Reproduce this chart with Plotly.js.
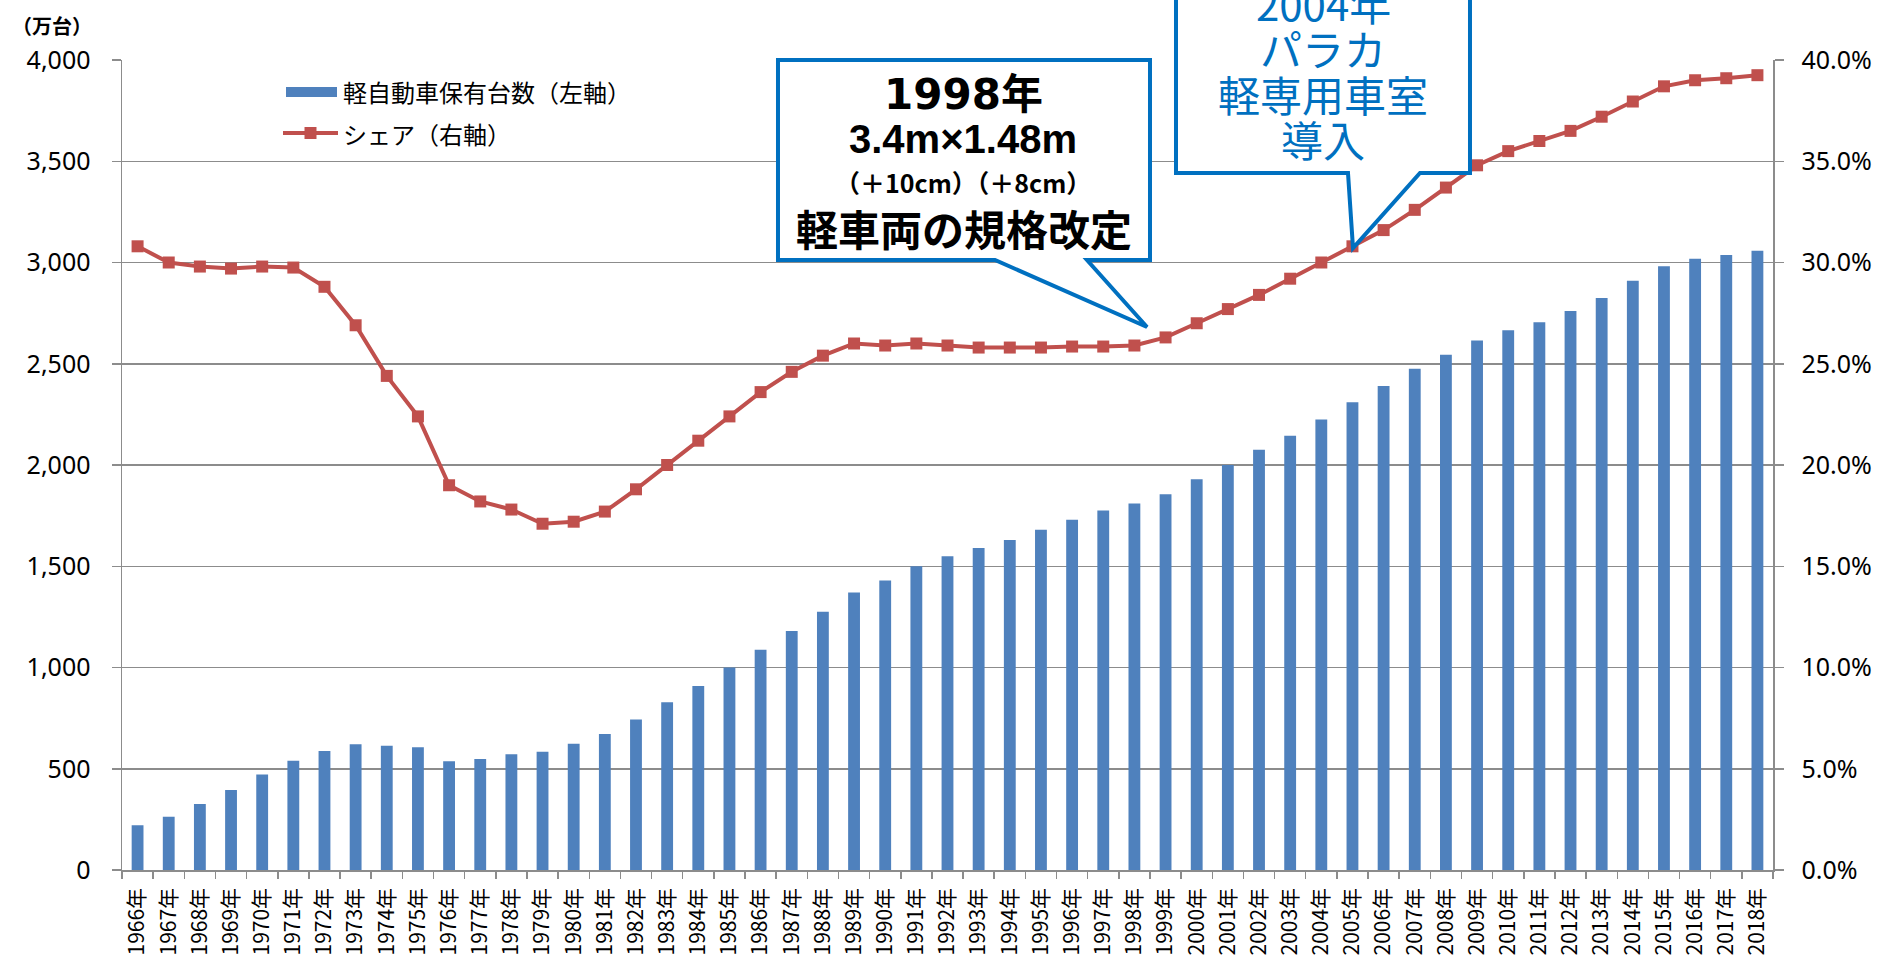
<!DOCTYPE html>
<html>
<head>
<meta charset="utf-8">
<script src="https://cdn.plot.ly/plotly-3.0.1.min.js"></script>
<style>html,body{margin:0;padding:0;background:#fff;}#chart{width:1881px;height:960px;}</style>
</head>
<body>
<div id="chart"></div>
<script>
// ---- data ----
const categories = ["1966年","1967年","1968年","1969年","1970年","1971年","1972年","1973年","1974年","1975年",
"1976年","1977年","1978年","1979年","1980年","1981年","1982年","1983年","1984年","1985年",
"1986年","1987年","1988年","1989年","1990年","1991年","1992年","1993年","1994年","1995年",
"1996年","1997年","1998年","1999年","2000年","2001年","2002年","2003年","2004年","2005年",
"2006年","2007年","2008年","2009年","2010年","2011年","2012年","2013年","2014年","2015年",
"2016年","2017年","2018年"];
const holdings = [221,263,326,395,471,540,588,621,614,606,
537,548,572,584,623,672,743,828,909,1000,
1088,1180,1275,1370,1430,1500,1550,1590,1630,1680,
1730,1775,1810,1855,1930,2000,2075,2145,2225,2310,
2390,2475,2545,2615,2665,2705,2760,2825,2910,2981,
3019,3037,3058];
const share = [30.8,30.0,29.8,29.7,29.8,29.75,28.8,26.9,24.4,22.4,
19.0,18.2,17.8,17.1,17.2,17.7,18.8,20.0,21.2,22.4,
23.6,24.6,25.4,26.0,25.9,26.0,25.9,25.8,25.8,25.8,
25.85,25.85,25.9,26.3,27.0,27.7,28.4,29.2,30.0,30.8,
31.6,32.6,33.7,34.8,35.5,36.0,36.5,37.2,37.95,38.7,
39.0,39.1,39.25];
const barName = "軽自動車保有台数（左軸）";
const lineName = "シェア（右軸）";
const leftTicks = [0,500,1000,1500,2000,2500,3000,3500,4000];
const leftTickLabels = ["0","500","1,000","1,500","2,000","2,500","3,000","3,500","4,000"];
const rightTicks = [0,5,10,15,20,25,30,35,40];
const rightTickLabels = ["0.0%","5.0%","10.0%","15.0%","20.0%","25.0%","30.0%","35.0%","40.0%"];
const unitLabel = "（万台）";
const note1998 = ["1998年","3.4m×1.48m","（＋10cm）（＋8cm）","軽車両の規格改定"];
const note2004 = ["2004年","パラカ","軽専用車室","導入"];

// ---- geometry helpers (pixel -> paper) ----
const W = 1881, Hh = 960;
const M = {l:122, r:108, t:60, b:90};
const PW = W - M.l - M.r, PH = Hh - M.t - M.b;
const px = x => (x - M.l) / PW;
const py = y => (Hh - M.b - y) / PH;
const path = pts => 'M' + pts.map(p => px(p[0]).toFixed(5) + ',' + py(p[1]).toFixed(5)).join('L') + 'Z';

const blue = '#4F81BD', red = '#C0504D', callout = '#0070C0', grid = '#8c8c8c';
const jp = '"Noto Sans CJK JP", "Noto Sans", sans-serif';

const traces = [
  {type:'bar', x:categories, y:holdings, name:barName, marker:{color:blue}, yaxis:'y', showlegend:false},
  {type:'scatter', mode:'lines+markers', x:categories, y:share, name:lineName, yaxis:'y2',
   line:{color:red, width:4}, marker:{symbol:'square', size:12, color:red}, showlegend:false, cliponaxis:false}
];

const shapes = [
  // legend
  {type:'rect', xref:'paper', yref:'paper', x0:px(286), x1:px(337), y0:py(87), y1:py(97), fillcolor:blue, line:{width:0}, layer:'above'},
  {type:'line', xref:'paper', yref:'paper', x0:px(283), x1:px(338), y0:py(133), y1:py(133), line:{color:red, width:4}, layer:'above'},
  {type:'rect', xref:'paper', yref:'paper', x0:px(304.5), x1:px(316.5), y0:py(127), y1:py(139), fillcolor:red, line:{width:0}, layer:'above'},
  // 1998 callout
  {type:'path', xref:'paper', yref:'paper', layer:'above', fillcolor:'#ffffff', line:{color:callout, width:4},
   path: path([[778,60],[1150,60],[1150,260],[1087,260],[1147,327],[995,260],[778,260]])},
  // 2004 callout
  {type:'path', xref:'paper', yref:'paper', layer:'above', fillcolor:'#ffffff', line:{color:callout, width:4},
   path: path([[1176,-20],[1470,-20],[1470,173],[1420,173],[1353,248],[1348,173],[1176,173]])}
];

const ann = (text, x, y, size, color, family, xanchor, bold) => ({
  xref:'paper', yref:'paper', x:px(x), y:py(y), text: bold ? '<b>'+text+'</b>' : text, showarrow:false,
  xanchor:xanchor||'center', yanchor:'middle', font:{size:size, color:color, family:family}
});

const annotations = [
  ann(unitLabel, 10, 25, 20, '#000', jp, 'left', true),
  ann(barName, 341, 91.5, 24, '#000', jp, 'left'),
  ann(lineName, 341, 133, 24, '#000', jp, 'left'),
  ann(note1998[0], 964, 95, 42, '#000', '"DejaVu Sans", "Noto Sans CJK JP"', 'center', true),
  ann(note1998[1], 963, 139.5, 40, '#000', '"Liberation Sans", "Noto Sans CJK JP"', 'center', true),
  ann(note1998[2], 963, 182, 25, '#000', jp, 'center', true),
  ann(note1998[3], 964, 227, 42, '#000', jp, 'center', true),
  ann(note2004[0], 1323, 3, 42, callout, jp, 'center'),
  ann(note2004[1], 1323, 47, 42, callout, jp, 'center'),
  ann(note2004[2], 1323, 93, 42, callout, jp, 'center'),
  ann(note2004[3], 1323, 138, 42, callout, jp, 'center')
];

const layout = {
  width:W, height:Hh, autosize:false, margin:M,
  paper_bgcolor:'#fff', plot_bgcolor:'#fff', showlegend:false, bargap:0.62,
  font:{family:jp, color:'#000'},
  xaxis:{type:'category', range:[-0.5, categories.length - 0.5], tickson:'boundaries', ticks:'outside', ticklen:7, tickwidth:1.5, tickcolor:grid,
    showline:true, linecolor:grid, linewidth:1.5, showgrid:false, tickangle:-90,
    tickfont:{size:21, family:jp, color:'#000'}, ticklabelstandoff:8, automargin:false},
  yaxis:{range:[0,4000], tickvals:leftTicks, ticktext:leftTickLabels, ticks:'outside', ticklen:9, tickwidth:1.5, tickcolor:grid,
    showline:true, linecolor:grid, linewidth:1.5, showgrid:true, gridcolor:grid, gridwidth:1.5, zeroline:false,
    tickfont:{size:25, family:'"Noto Sans", sans-serif', color:'#000'}, ticklabelstandoff:16, automargin:false},
  yaxis2:{range:[0,40], overlaying:'y', side:'right', tickvals:rightTicks, ticktext:rightTickLabels,
    ticks:'outside', ticklen:9, tickwidth:1.5, tickcolor:grid, showline:true, linecolor:grid, linewidth:1.5,
    showgrid:false, zeroline:false, tickfont:{size:25, family:'"Noto Sans", sans-serif', color:'#000'},
    ticklabelstandoff:13, automargin:false},
  shapes:shapes, annotations:annotations
};

Plotly.newPlot('chart', traces, layout, {displayModeBar:false, staticPlot:true});
</script>
</body>
</html>
